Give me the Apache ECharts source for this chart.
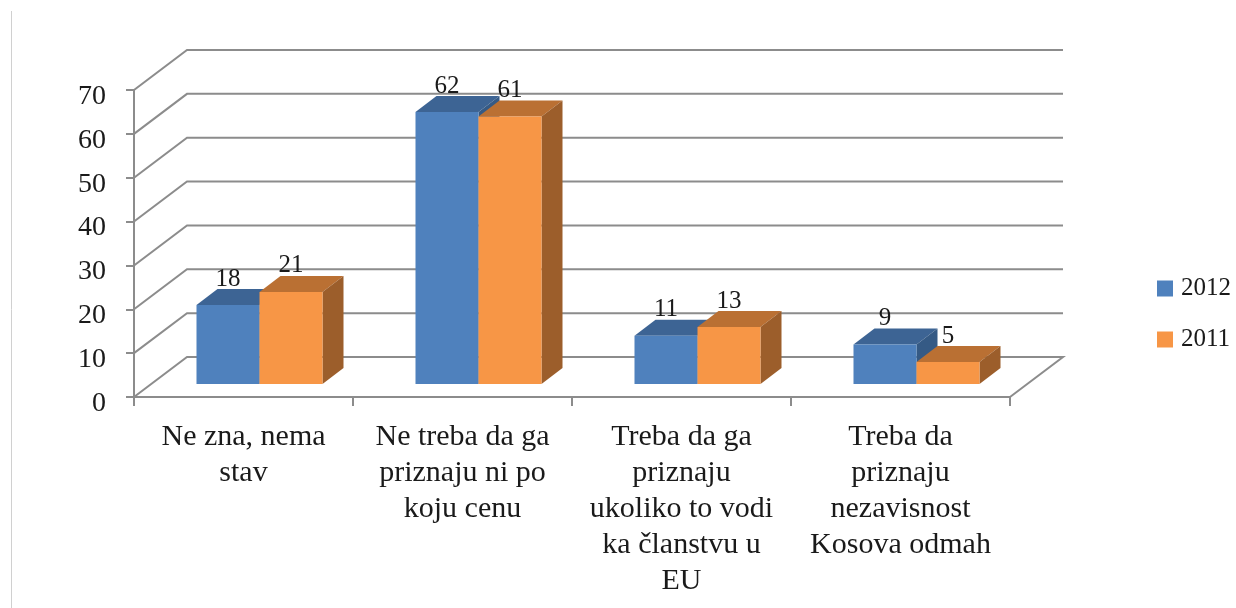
<!DOCTYPE html>
<html>
<head>
<meta charset="utf-8">
<style>
  html, body { margin: 0; padding: 0; background: #fff; }
  #chart { width: 1236px; height: 608px; }
</style>
<script src="https://cdn.jsdelivr.net/npm/echarts@6/dist/echarts.min.js"></script>
</head>
<body>
<div id="chart"></div>
<script>
  // data
  const categories = [
    "Ne zna, nema\nstav",
    "Ne treba da ga\npriznaju ni po\nkoju cenu",
    "Treba da ga\npriznaju\nukoliko to vodi\nka članstvu u\nEU",
    "Treba da\npriznaju\nnezavisnost\nKosova odmah",
  ];
  const values2012 = [18, 62, 11, 9];
  const values2011 = [21, 61, 13, 5];
  const yTicks = [0, 10, 20, 30, 40, 50, 60, 70];

  const FONT = '"Liberation Serif", serif';
  const GRID_COLOR = "#8c8c8c";
  // depth of the fake 3d box, and of a bar inside it
  const WALL_DX = 53, WALL_DY = -40;
  const BAR_DX = 21, BAR_DY = -16;
  const FLOOR_DX = 16, FLOOR_DY = -13;
  const BAR_W = 0.2877; // share of a category band

  // back wall lines + floor
  function renderWall(params, api) {
    const rect = params.coordSys;
    const left = rect.x, right = rect.x + rect.width;
    const y = api.coord([0, api.value(0)])[1];
    const style = { stroke: GRID_COLOR, lineWidth: 2, fill: "none" };
    const points = [
      [left, y],
      [left + WALL_DX, y + WALL_DY],
      [right + WALL_DX, y + WALL_DY],
    ];
    if (api.value(0) === 0) points.push([right, y]);
    return { type: "polyline", shape: { points }, style };
  }

  function makeBar(offset, front, top, side) {
    return function (params, api) {
      const c = api.coord([api.value(0), api.value(1)]);
      const base = api.coord([api.value(0), 0])[1] + FLOOR_DY;
      const w = api.size([1, 0])[0] * BAR_W;
      const x0 = c[0] + FLOOR_DX + offset * w;
      const x1 = x0 + w;
      const yt = c[1] + FLOOR_DY;
      return {
        type: "group",
        children: [
          {
            type: "polygon",
            shape: { points: [[x0, yt], [x0 + BAR_DX, yt + BAR_DY], [x1 + BAR_DX, yt + BAR_DY], [x1, yt]] },
            style: { fill: top },
          },
          {
            type: "polygon",
            shape: { points: [[x1, yt], [x1 + BAR_DX, yt + BAR_DY], [x1 + BAR_DX, base + BAR_DY], [x1, base]] },
            style: { fill: side },
          },
          {
            type: "rect",
            shape: { x: x0, y: yt, width: w, height: base - yt },
            style: { fill: front },
          },
          {
            type: "text",
            z2: 20,
            style: {
              text: String(api.value(1)),
              x: (x0 + x1) / 2,
              y: yt - 26,
              align: "center",
              verticalAlign: "middle",
              fill: "#1a1a1a",
              font: "25px " + FONT,
            },
          },
        ],
      };
    };
  }

  const myChart = echarts.init(document.getElementById("chart"));
  myChart.setOption({
    animation: false,
    backgroundColor: "#fff",
    grid: { left: 134, right: 226, top: 90, height: 307 },
    // thin page edge on the left of the picture
    graphic: [
      {
        type: "line",
        shape: { x1: 11.5, y1: 11, x2: 11.5, y2: 608 },
        style: { stroke: "#d0d0d0", lineWidth: 1 },
      },
    ],
    legend: {
      data: ["2012", "2011"],
      orient: "vertical",
      left: 1152,
      top: 271,
      icon: "rect",
      itemWidth: 16,
      itemHeight: 16,
      itemGap: 26,
      textStyle: { fontFamily: FONT, fontSize: 25, color: "#1a1a1a", padding: [0, 0, 0, 3] },
    },
    xAxis: {
      type: "category",
      data: categories,
      axisLine: { lineStyle: { color: GRID_COLOR, width: 2 } },
      axisTick: { show: true, length: 9, alignWithLabel: false, lineStyle: { color: GRID_COLOR, width: 2 } },
      axisLabel: {
        interval: 0,
        margin: 22,
        fontFamily: FONT,
        fontSize: 30,
        lineHeight: 36,
        color: "#1a1a1a",
      },
    },
    yAxis: {
      type: "value",
      min: 0,
      max: 70,
      interval: 10,
      splitLine: { show: false },
      axisLine: { show: true, lineStyle: { color: GRID_COLOR, width: 2 } },
      axisTick: { show: true, length: 8, lineStyle: { color: GRID_COLOR, width: 2 } },
      axisLabel: {
        margin: 28,
        fontFamily: FONT,
        fontSize: 28,
        color: "#1a1a1a",
        verticalAlign: "top",
        lineHeight: 13,
      },
    },
    series: [
      {
        type: "custom",
        name: "walls",
        renderItem: renderWall,
        data: yTicks.map((v) => [v]),
        encode: { y: 0 },
        silent: true,
      },
      {
        type: "custom",
        name: "2012",
        itemStyle: { color: "#4f81bd" },
        renderItem: makeBar(-1, "#4f81bd", "#3d6494", "#355a85"),
        data: values2012.map((v, i) => [i, v]),
        encode: { x: 0, y: 1 },
      },
      {
        type: "custom",
        name: "2011",
        itemStyle: { color: "#f79646" },
        renderItem: makeBar(0, "#f79646", "#ba7033", "#9c5e2b"),
        data: values2011.map((v, i) => [i, v]),
        encode: { x: 0, y: 1 },
      },
    ],
  });

  window.onresize = function () {
    myChart.resize();
  };
</script>
</body>
</html>
